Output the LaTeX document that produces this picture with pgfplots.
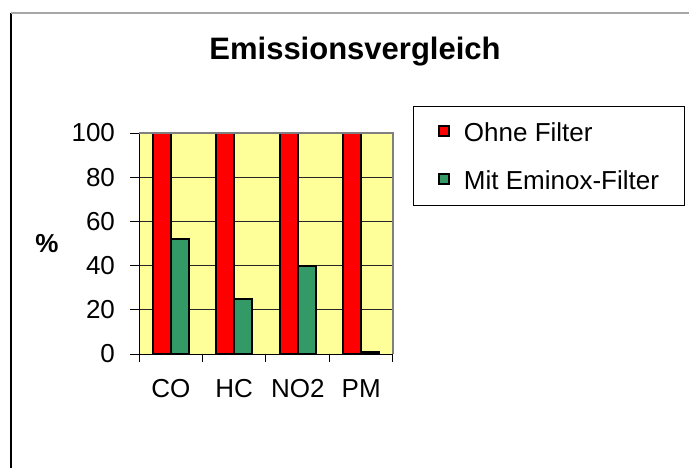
\documentclass[border=0pt]{standalone}
\usepackage{fontspec}
\setmainfont{Liberation Sans}
\usepackage{pgfplots}
\pgfplotsset{compat=1.18}
\definecolor{barred}{HTML}{FF0000}
\definecolor{bargreen}{HTML}{339966}
\definecolor{bgyellow}{HTML}{FFFF99}
\begin{document}
\begin{tikzpicture}[x=1pt,y=1pt]
\path[use as bounding box] (0,0) rectangle (344.5,234);
\draw[black, line width=0.7pt] (5.5,0) -- (5.5,227.5);
\draw[black!35, line width=0.7pt] (5.5,227.5) -- (344.5,227.5);
\node[anchor=base, font=\fontsize{15.5}{18.6}\selectfont\bfseries] at (177.5,204.5) {Emissionsvergleich};
\begin{axis}[
  at={(69.5pt,57pt)}, anchor=south west,
  scale only axis, width=127pt, height=110.5pt,
  ybar=0pt, bar width=9pt,
  xmin=-0.5, xmax=3.5, ymin=0, ymax=100,
  xtick={0,1,2,3}, xticklabels={CO,HC,NO2,PM},
  minor xtick={-0.5,0.5,1.5,2.5,3.5},
  ytick={0,20,40,60,80,100},
  xtick pos=left, ytick pos=left,
  tick align=outside,
  major x tick style={draw=none},
  major tick length=4.5pt, minor tick length=4pt,
  tick style={black, line width=0.5pt},
  ymajorgrids, major grid style={black!85, line width=0.5pt},
  axis background/.style={fill=bgyellow},
  axis line style={black, line width=0.5pt},
  /pgf/number format/assume math mode=true,
  ticklabel style={font=\fontsize{13}{15.6}\selectfont},
  xticklabel style={yshift=-4pt, text height=9.5pt, text depth=0pt},
  yticklabel style={xshift=-4pt},
  ylabel={\textbf{\%}},
  ylabel style={at={(axis description cs:-0.362,0.5)}, rotate=-90, anchor=center, font=\fontsize{13}{15.6}\selectfont},
  legend style={at={(axis description cs:1.0787,1.1222)}, anchor=north west,
    draw=black, line width=0.5pt, font=\fontsize{13}{15.6}\selectfont,
    inner xsep=12.5pt, inner ysep=8pt,
    nodes={inner sep=0pt, text height=9.5pt, text depth=0pt},
    column sep=7pt, row sep=14.5pt},
  legend cell align=left,
  after end axis/.code={
    \draw[black!50, line width=1pt] (rel axis cs:0,1) -- (rel axis cs:1,1) -- (rel axis cs:1,0);
  },
]
\addplot[fill=barred, draw=black, line width=1pt,
  legend image code/.code={\draw[fill=barred, draw=black, line width=0.75pt] (0pt,-2pt) rectangle (5pt,3pt);}]
  coordinates {(0,100) (1,100) (2,100) (3,100)};
\addplot[fill=bargreen, draw=black, line width=1pt,
  legend image code/.code={\draw[fill=bargreen, draw=black, line width=0.75pt] (0pt,-2pt) rectangle (5pt,3pt);}]
  coordinates {(0,52) (1,25) (2,40) (3,1)};
\legend{Ohne Filter, Mit Eminox-Filter}
\end{axis}
\end{tikzpicture}
\end{document}
